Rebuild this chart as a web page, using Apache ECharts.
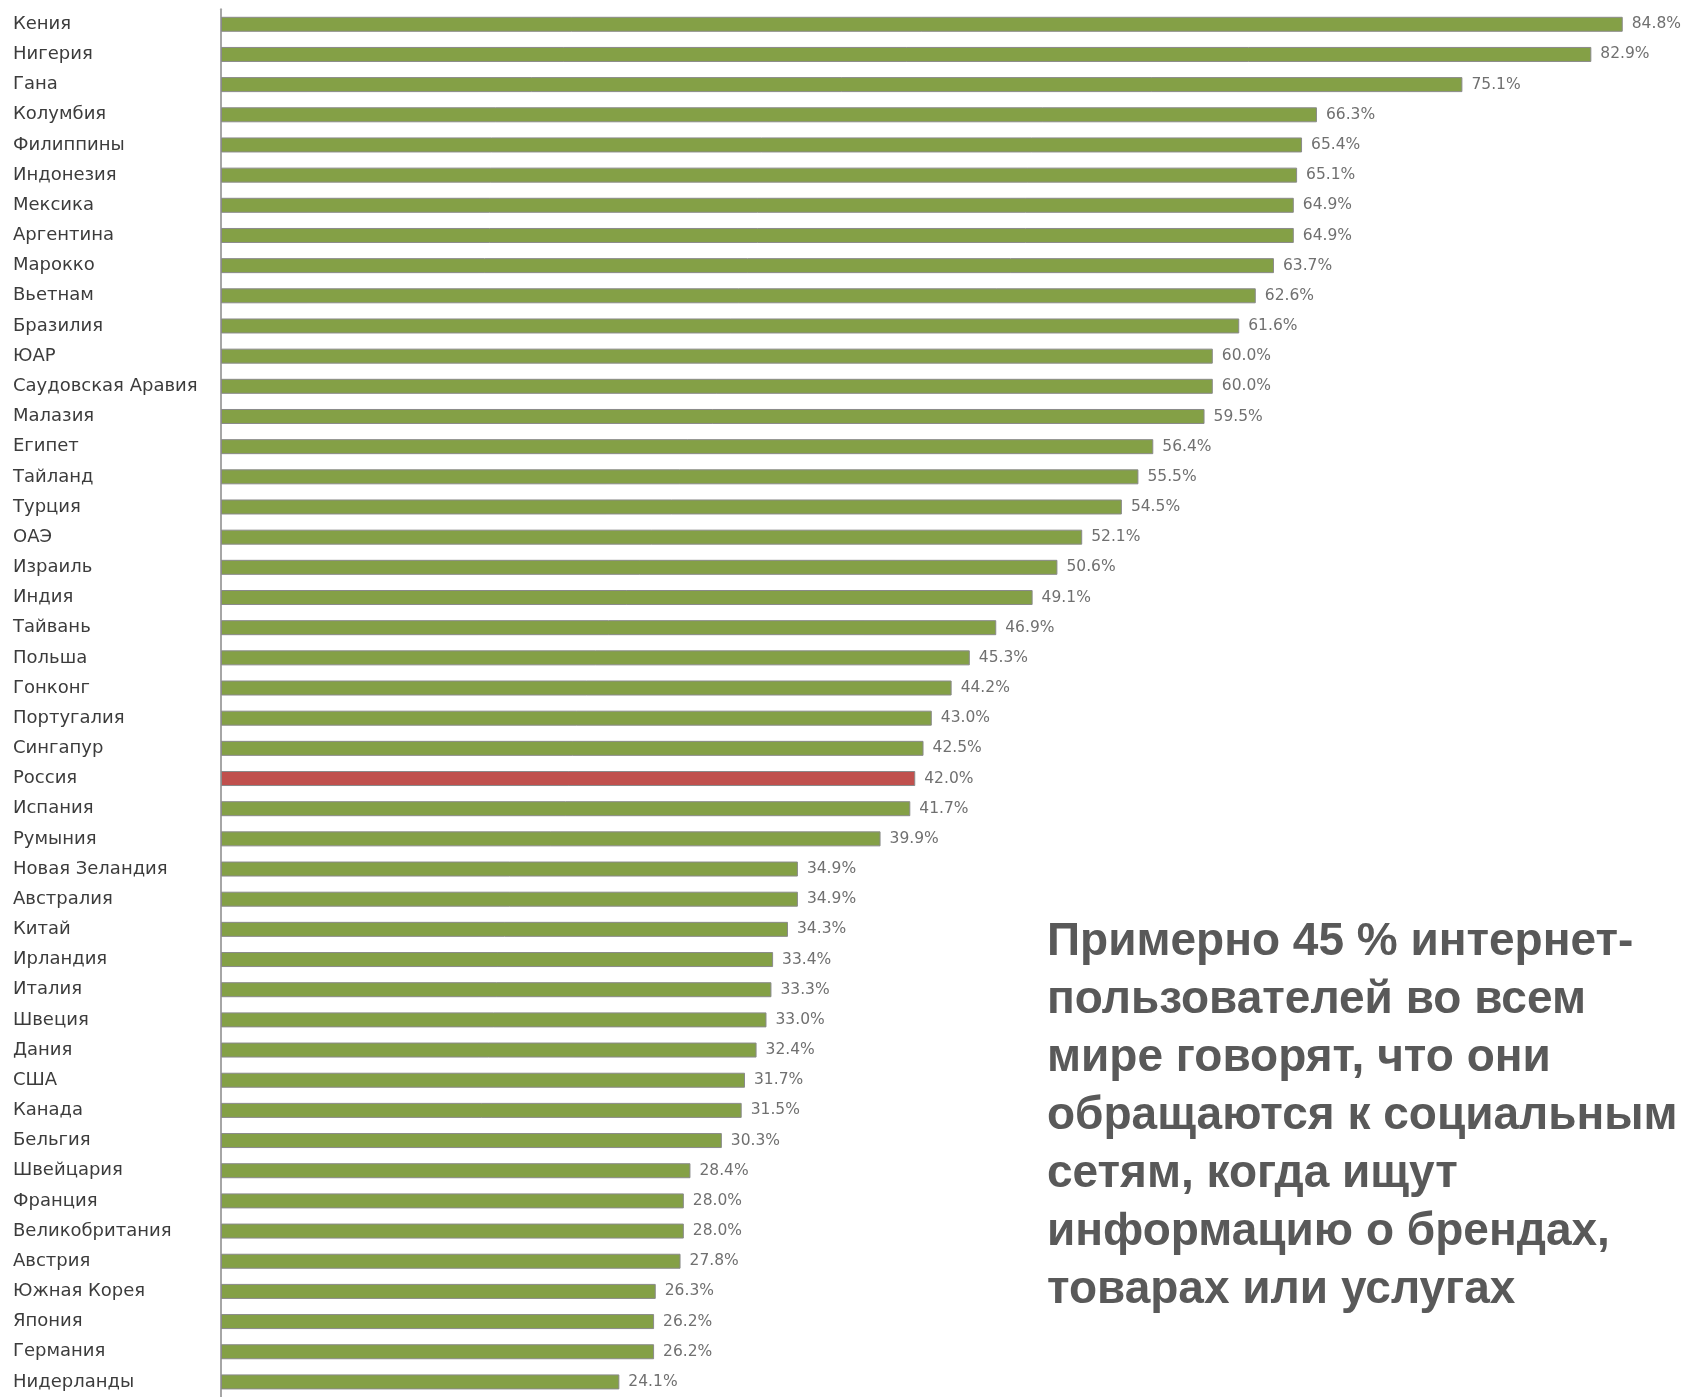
<!DOCTYPE html>
<html>
<head>
<meta charset="utf-8">
<script src="https://cdn.jsdelivr.net/npm/echarts@6/dist/echarts.min.js"></script>
<style>
html,body{margin:0;padding:0;background:#fff;}
#chart{width:1688px;height:1397px;}
</style>
</head>
<body>
<div id="chart"></div>
<script>
const categories = ["Кения","Нигерия","Гана","Колумбия","Филиппины","Индонезия","Мексика","Аргентина","Марокко","Вьетнам","Бразилия","ЮАР","Саудовская Аравия","Малазия","Египет","Тайланд","Турция","ОАЭ","Израиль","Индия","Тайвань","Польша","Гонконг","Португалия","Сингапур","Россия","Испания","Румыния","Новая Зеландия","Австралия","Китай","Ирландия","Италия","Швеция","Дания","США","Канада","Бельгия","Швейцария","Франция","Великобритания","Австрия","Южная Корея","Япония","Германия","Нидерланды"];
const values = [84.8,82.9,75.1,66.3,65.4,65.1,64.9,64.9,63.7,62.6,61.6,60.0,60.0,59.5,56.4,55.5,54.5,52.1,50.6,49.1,46.9,45.3,44.2,43.0,42.5,42.0,41.7,39.9,34.9,34.9,34.3,33.4,33.3,33.0,32.4,31.7,31.5,30.3,28.4,28.0,28.0,27.8,26.3,26.2,26.2,24.1];
const highlighted = "Россия";
const noteLines = ["Примерно 45 % интернет-","пользователей во всем","мире говорят, что они","обращаются к социальным","сетям, когда ищут","информацию о брендах,","товарах или услугах"];

const GREEN = "#84a046", RED = "#c0504d";
const chart = echarts.init(document.getElementById('chart'), null, {renderer:'canvas'});
chart.setOption({
  animation:false,
  backgroundColor:'#fff',
  grid:{left:221, top:9.2, width:85*16.53, height:1389},
  xAxis:{type:'value', min:0, max:85, show:false},
  yAxis:{
    type:'category', data:categories, inverse:true,
    axisLine:{show:true, lineStyle:{color:'#a6a6a6', width:2}},
    axisTick:{show:false},
    axisLabel:{align:'left', margin:208, fontFamily:'DejaVu Sans', fontSize:18, color:'#3c3c3c'}
  },
  series:[{
    type:'bar', barWidth:15,
    data: values.map((v,i)=>({value:v, itemStyle:{color: categories[i]===highlighted ? RED : GREEN}})),
    itemStyle:{borderColor:'#8a8a8a', borderWidth:1},
    label:{show:true, position:'right', distance:9, fontFamily:'DejaVu Sans', fontSize:15.5, color:'#707070',
      formatter:p=>p.value.toFixed(1)+'%'}
  }],
  graphic:[{
    type:'text', left:1047, top:913,
    style:{text:noteLines.join('\n'), font:'bold 46px "Liberation Sans", Arial, sans-serif', lineHeight:58, fill:'#595959'}
  }]
});
</script>
</body>
</html>
